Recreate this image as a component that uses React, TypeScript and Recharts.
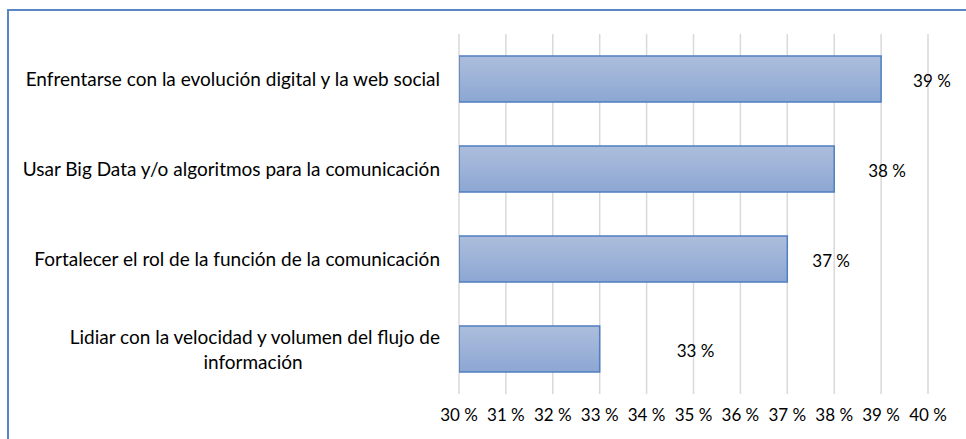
import React from "react";
import { BarChart, Bar, XAxis, YAxis, CartesianGrid, LabelList } from "recharts";

const categories = [
  "Enfrentarse con la evolución digital y la web social",
  "Usar Big Data y/o algoritmos para la comunicación",
  "Fortalecer el rol de la función de la comunicación",
  "Lidiar con la velocidad y volumen del flujo de\ninformación",
];
const values = [39, 38, 37, 33];
const tickValues = [30, 31, 32, 33, 34, 35, 36, 37, 38, 39, 40];
const tickLabels = ["30 %", "31 %", "32 %", "33 %", "34 %", "35 %", "36 %", "37 %", "38 %", "39 %", "40 %"];
const valueLabels = ["39 %", "38 %", "37 %", "33 %"];

const data = categories.map((c, i) => ({ name: c, value: values[i], label: valueLabels[i] }));

// label offsets from bar end (style only)
const labelDx = [32, 34, 25, 77];

const FONT = "Lato, 'Open Sans', sans-serif";

const CategoryTick = (props: any) => {
  const { x, y, payload } = props;
  const lines = String(payload.value).split("\n");
  const rightX = x - 11;
  if (lines.length === 1) {
    return (
      <text x={rightX} y={y} dy="0.35em" textAnchor="end" fontSize={19} fill="#000" fontFamily={FONT}>
        {lines[0]}
      </text>
    );
  }
  return (
    <g>
      <text x={rightX} y={y - 12} dy="0.35em" textAnchor="end" fontSize={19} fill="#000" fontFamily={FONT}>
        {lines[0]}
      </text>
      <text x={rightX - 187} y={y + 13} dy="0.35em" textAnchor="middle" fontSize={19} fill="#000" fontFamily={FONT}>
        {lines[1]}
      </text>
    </g>
  );
};

const ValueLabel = (props: any) => {
  const { x, y, width, height, index, value } = props;
  return (
    <text
      x={x + width + labelDx[index]}
      y={y + height / 2 + 2}
      dy="0.35em"
      textAnchor="start"
      fontSize={17}
      fill="#000"
      fontFamily={FONT}
    >
      {value}
    </text>
  );
};

export default function App() {
  return (
    <div style={{ position: "absolute", left: 0, top: 0, width: 966, height: 439, overflow: "hidden", background: "#fff" }}>
      <div
        style={{
          position: "absolute",
          left: 7,
          top: 9,
          width: 1000,
          height: 500,
          borderLeft: "2px solid #5A86C5",
          borderTop: "2px solid #5A86C5",
        }}
      />
      <div style={{ position: "absolute", left: 0, top: 0 }}>
        <BarChart
          width={966}
          height={439}
          data={data}
          layout="vertical"
          margin={{ top: 34, right: 38, bottom: 0, left: 0 }}
          barCategoryGap={22}
        >
          <defs>
            <linearGradient id="barGrad" x1="0" y1="0" x2="0" y2="1">
              <stop offset="0%" stopColor="#ADBEDC" />
              <stop offset="100%" stopColor="#8CA7D3" />
            </linearGradient>
          </defs>
          <CartesianGrid horizontal={false} stroke="#D9D9D9" strokeWidth={1.5} />
          <XAxis
            type="number"
            domain={[30, 40]}
            ticks={tickValues}
            tickFormatter={(v: number) => tickLabels[tickValues.indexOf(v)]}
            axisLine={false}
            tickLine={false}
            height={45}
            tickMargin={9}
            interval={0}
            tick={{ fontSize: 17, fill: "#000", fontFamily: FONT }}
            allowDataOverflow
          />
          <YAxis
            type="category"
            dataKey="name"
            width={459}
            axisLine={false}
            tickLine={false}
            tick={<CategoryTick />}
            interval={0}
          />
          <Bar dataKey="value" fill="url(#barGrad)" stroke="#4F7FC0" strokeWidth={1.5} isAnimationActive={false}>
            <LabelList dataKey="label" content={<ValueLabel />} />
          </Bar>
        </BarChart>
      </div>
    </div>
  );
}
